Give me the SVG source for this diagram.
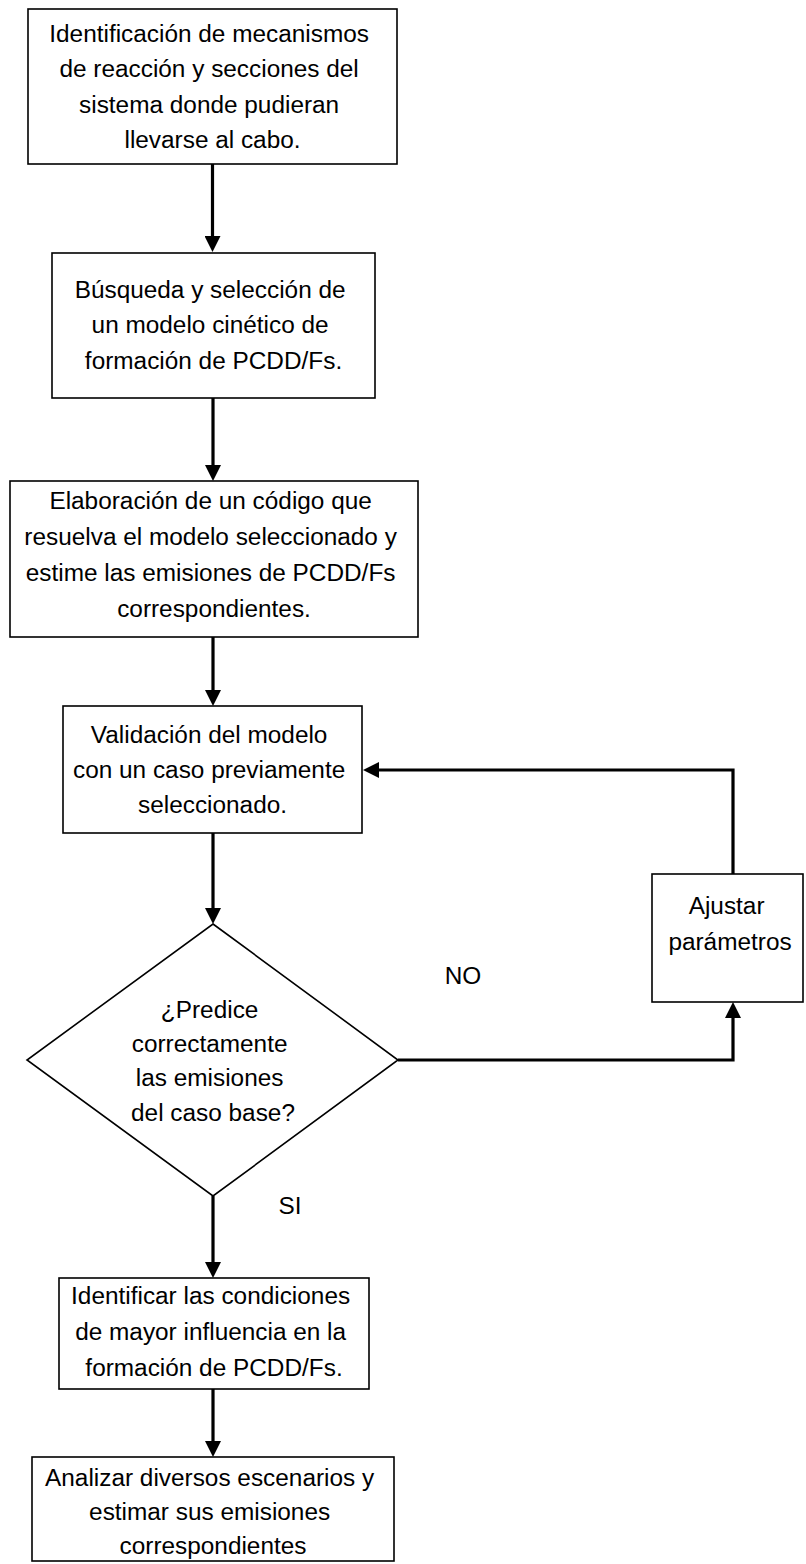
<svg xmlns="http://www.w3.org/2000/svg" width="806" height="1564" viewBox="0 0 806 1564">
  <style>
    .box { fill: #ffffff; stroke: #000000; stroke-width: 1.6; }
    .link { fill: none; stroke: #000000; stroke-width: 3.2; marker-end: url(#head); }
    .plain { fill: none; stroke: #000000; stroke-width: 3.2; }
    .t { font-family: "Liberation Sans", Arial, sans-serif; font-size: 23px; fill: #000000; text-anchor: middle; }
  </style>
  <defs>
    <marker id="head" viewBox="0 0 16 16" markerUnits="userSpaceOnUse" markerWidth="16" markerHeight="16" refX="6" refY="8" orient="auto">
      <path d="M0,0 L16,8 L0,16 z" fill="#000000"/>
    </marker>
  </defs>
  <rect width="806" height="1564" fill="#ffffff"/>

  <!-- connectors -->
  <g id="connectors">
    <path class="link" d="M212.5,164 V242"/>
    <path class="link" d="M213,398 V471"/>
    <path class="link" d="M213,637 V696"/>
    <path class="link" d="M213,833 V914"/>
    <path class="plain" d="M213,1196 V1230"/>
    <path class="link" d="M213,1230 V1268"/>
    <path class="link" d="M213,1389 V1447"/>
    <path class="link" d="M398,1060 H733 V1012"/>
    <path class="link" d="M733,874 V770 H373"/>
  </g>

  <g id="n1">
    <rect class="box" x="28" y="9" width="369" height="155"/>
    <text class="t" transform="translate(212.5 0) scale(1.06 1)">
      <tspan x="0" y="42">Identificación de mecanismos</tspan>
      <tspan x="0" y="77">de reacción y secciones del</tspan>
      <tspan x="0" y="113">sistema donde pudieran</tspan>
      <tspan x="0" y="148">llevarse al cabo.</tspan>
    </text>
  </g>

  <g id="n2">
    <rect class="box" x="52" y="253" width="323" height="145"/>
    <text class="t" transform="translate(213.5 0) scale(1.06 1)">
      <tspan x="0" y="298">Búsqueda y selección de</tspan>
      <tspan x="0" y="333">un modelo cinético de</tspan>
      <tspan x="0" y="369">formación de PCDD/Fs.</tspan>
    </text>
  </g>

  <g id="n3">
    <rect class="box" x="10" y="481" width="408" height="156"/>
    <text class="t" transform="translate(214 0) scale(1.06 1)">
      <tspan x="0" y="509">Elaboración de un código que</tspan>
      <tspan x="0" y="545">resuelva el modelo seleccionado y</tspan>
      <tspan x="0" y="581">estime las emisiones de PCDD/Fs</tspan>
      <tspan x="0" y="617">correspondientes.</tspan>
    </text>
  </g>

  <g id="n4">
    <rect class="box" x="63" y="706" width="299" height="127"/>
    <text class="t" transform="translate(212.5 0) scale(1.06 1)">
      <tspan x="0" y="743">Validación del modelo</tspan>
      <tspan x="0" y="778">con un caso previamente</tspan>
      <tspan x="0" y="813">seleccionado.</tspan>
    </text>
  </g>

  <g id="decision">
    <polygon class="box" points="213,924 398,1060 213,1196 27,1060"/>
    <text class="t" transform="translate(213 0) scale(1.06 1)">
      <tspan x="0" y="1018">¿Predice</tspan>
      <tspan x="0" y="1052">correctamente</tspan>
      <tspan x="0" y="1086">las emisiones</tspan>
      <tspan x="0" y="1121">del caso base?</tspan>
    </text>
  </g>

  <g id="adjust">
    <rect class="box" x="652" y="874" width="151" height="128"/>
    <text class="t" transform="translate(730 0) scale(1.06 1)">
      <tspan x="0" y="914">Ajustar</tspan>
      <tspan x="0" y="950">parámetros</tspan>
    </text>
  </g>

  <g id="labels">
    <text class="t" transform="translate(463 0) scale(1.06 1)" x="0" y="984">NO</text>
    <text class="t" transform="translate(290 0) scale(1.06 1)" x="0" y="1214">SI</text>
  </g>

  <g id="n5">
    <rect class="box" x="59" y="1278" width="310" height="111"/>
    <text class="t" transform="translate(214 0) scale(1.06 1)">
      <tspan x="0" y="1304">Identificar las condiciones</tspan>
      <tspan x="0" y="1340">de mayor influencia en la</tspan>
      <tspan x="0" y="1376">formación de PCDD/Fs.</tspan>
    </text>
  </g>

  <g id="n6">
    <rect class="box" x="32" y="1457" width="362" height="104"/>
    <text class="t" transform="translate(213 0) scale(1.06 1)">
      <tspan x="0" y="1486">Analizar diversos escenarios y</tspan>
      <tspan x="0" y="1520">estimar sus emisiones</tspan>
      <tspan x="0" y="1554">correspondientes</tspan>
    </text>
  </g>
</svg>
